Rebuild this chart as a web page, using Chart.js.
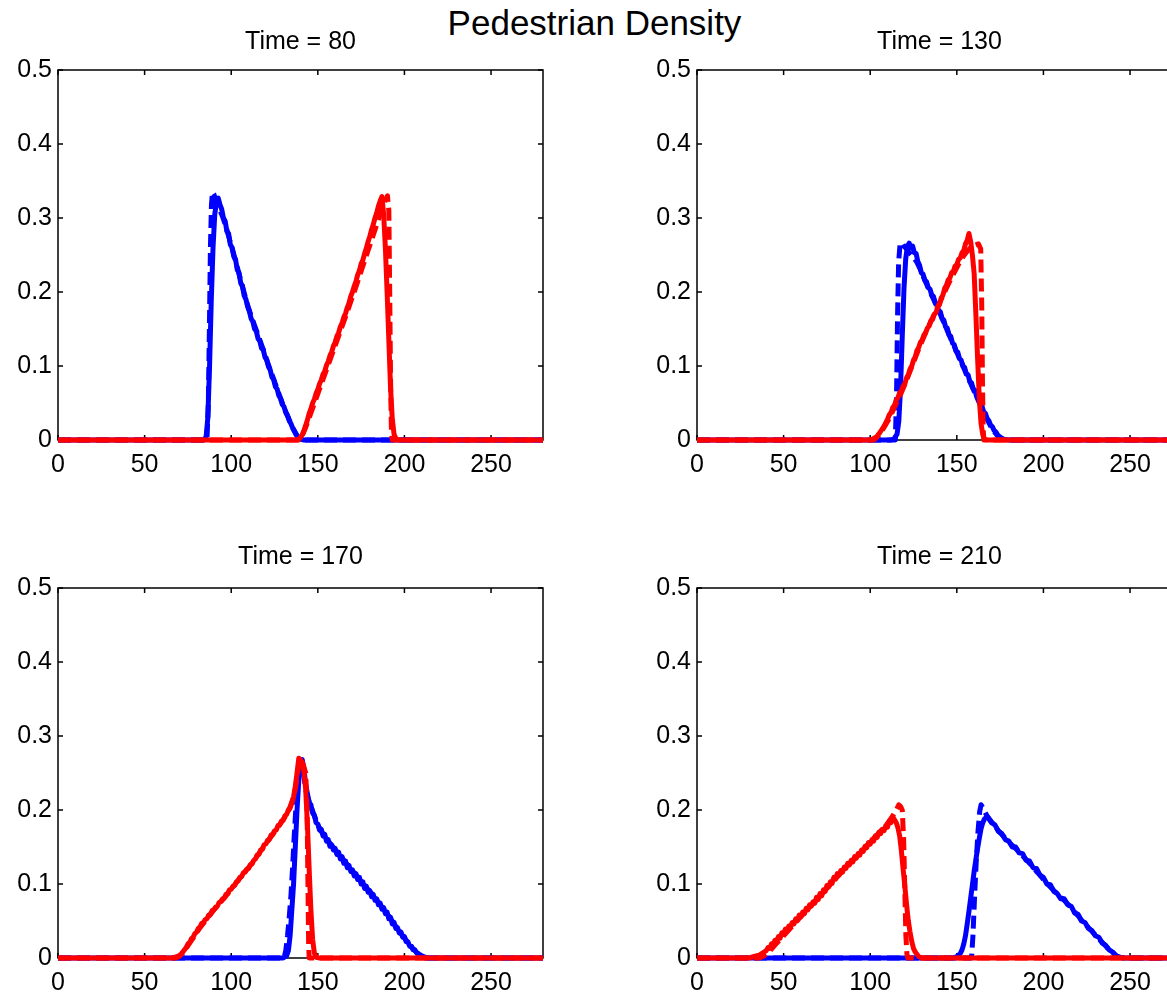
<!DOCTYPE html>
<html>
<head>
<meta charset="utf-8">
<title>Pedestrian Density</title>
<script src="https://cdn.jsdelivr.net/npm/chart.js@4.4.0/dist/chart.umd.min.js"></script>
<style>
  html, body { margin: 0; padding: 0; background: #fff; }
  body { width: 1167px; height: 992px; overflow: hidden; position: relative; font-family: "Liberation Sans", Arial, sans-serif; }
  #mainTitle { position: absolute; left: 0; top: 5px; width: 1189px; text-align: center; font-size: 35px; line-height: 35px; color: #000; }
  canvas { position: absolute; }
</style>
</head>
<body>
<div id="mainTitle">Pedestrian Density</div>
<canvas id="c80" width="558" height="490" style="left:0;top:0"></canvas>
<canvas id="c130" width="558" height="490" style="left:639px;top:0"></canvas>
<canvas id="c170" width="558" height="490" style="left:0;top:518px"></canvas>
<canvas id="c210" width="558" height="490" style="left:639px;top:518px"></canvas>
<script>
// axis setup
const xTicksStep = 50;
const yTicksStep = 0.1;

// Time = 80
const blueSolid80 = [[0,0],[84,0],[85.5,0.004],[86.5,0.03],[87.5,0.1],[88.5,0.19],[89.5,0.26],[90.5,0.305],[91.5,0.322],[92.5,0.327],[93.5,0.318],[94.5,0.312],[95.5,0.3],[96.5,0.296],[97.5,0.282],[98.5,0.279],[99.5,0.264],[100.5,0.26],[101.5,0.248],[102.5,0.244],[103.5,0.23],[104.5,0.226],[105.5,0.212],[106.5,0.208],[107.5,0.195],[108.5,0.19],[109.5,0.18],[110.5,0.174],[111.5,0.164],[112.5,0.16],[113.5,0.15],[114.5,0.147],[115.5,0.137],[116.5,0.134],[117.5,0.124],[118.5,0.122],[119.5,0.112],[120.5,0.108],[121.5,0.099],[122.5,0.095],[123.5,0.085],[124.5,0.082],[125.5,0.072],[126.5,0.069],[127.5,0.06],[128.5,0.056],[129.5,0.048],[130.5,0.045],[131.5,0.037],[132.5,0.033],[133.5,0.026],[134.5,0.022],[135.5,0.016],[136.5,0.012],[137.5,0.007],[138.5,0.004],[140,0.001],[142,0],[280,0]];
const blueDashed80 = [[0,0],[86,0],[86.8,0.05],[87.4,0.15],[88,0.26],[88.6,0.318],[89.2,0.335],[90,0.332],[91,0.325],[93,0.313],[95,0.302],[97,0.288],[99,0.271],[101,0.255],[103,0.238],[105,0.22],[107,0.203],[109,0.186],[111,0.171],[113,0.158],[115,0.145],[117,0.132],[119,0.119],[121,0.105],[123,0.092],[125,0.079],[127,0.066],[129,0.053],[131,0.041],[133,0.03],[135,0.019],[137,0.01],[139,0.003],[140.5,0],[280,0]];
const redSolid80 = [[0,0],[138,0],[139.5,0.002],[141,0.007],[142,0.013],[143,0.02],[144,0.027],[145,0.036],[146,0.042],[147,0.05],[148,0.055],[149,0.063],[150,0.068],[151,0.076],[152,0.081],[153,0.089],[154,0.093],[155,0.101],[156,0.106],[157,0.114],[158,0.119],[159,0.127],[160,0.132],[161,0.14],[162,0.145],[163,0.153],[164,0.158],[165,0.166],[166,0.171],[167,0.179],[168,0.185],[169,0.194],[170,0.2],[171,0.208],[172,0.214],[173,0.223],[174,0.229],[175,0.238],[176,0.243],[177,0.252],[178,0.259],[179,0.268],[180,0.275],[181,0.284],[182,0.291],[183,0.3],[184,0.307],[185,0.316],[186,0.323],[187,0.329],[188,0.305],[189,0.26],[190,0.2],[191,0.135],[192,0.07],[193,0.028],[194,0.008],[195,0.002],[197,0],[280,0]];
const redDashed80 = [[0,0],[139,0],[141,0.006],[143,0.017],[145,0.03],[147,0.043],[149,0.056],[151,0.069],[153,0.082],[155,0.095],[157,0.108],[159,0.121],[161,0.134],[163,0.147],[165,0.16],[167,0.173],[169,0.187],[171,0.2],[173,0.214],[175,0.228],[177,0.242],[179,0.256],[181,0.27],[183,0.284],[185,0.298],[187,0.311],[189,0.324],[190.2,0.33],[191,0.31],[191.5,0.2],[192,0.08],[192.5,0.01],[193,0],[280,0]];

// Time = 130
const blueSolid130 = [[0,0],[112,0],[114,0.002],[115.5,0.008],[116.5,0.025],[117.5,0.07],[118.5,0.14],[119.5,0.205],[120.5,0.245],[121.5,0.262],[122.5,0.266],[123.5,0.26],[124.5,0.262],[125.5,0.253],[126.5,0.252],[127.5,0.241],[128.5,0.236],[129.5,0.226],[130.5,0.224],[131.5,0.216],[132.5,0.214],[133.5,0.206],[134.5,0.204],[135.5,0.196],[136.5,0.194],[137.5,0.186],[138.5,0.183],[139.5,0.175],[140.5,0.173],[141.5,0.164],[142.5,0.162],[143.5,0.153],[144.5,0.151],[145.5,0.142],[146.5,0.14],[147.5,0.131],[148.5,0.129],[149.5,0.12],[150.5,0.119],[151.5,0.11],[152.5,0.108],[153.5,0.1],[154.5,0.098],[155.5,0.089],[156.5,0.088],[157.5,0.079],[158.5,0.077],[159.5,0.069],[160.5,0.067],[161.5,0.058],[162.5,0.057],[163.5,0.048],[164.5,0.046],[165.5,0.038],[166.5,0.036],[167.5,0.029],[168.5,0.026],[169.5,0.02],[170.5,0.018],[171.5,0.013],[172.5,0.011],[173.5,0.007],[175,0.004],[177,0.001],[180,0],[280,0]];
const blueDashed130 = [[0,0],[114.5,0],[115.2,0.06],[115.8,0.17],[116.4,0.24],[117.2,0.264],[118.2,0.267],[119.5,0.262],[121,0.258],[123,0.252],[125,0.247],[127,0.24],[129,0.23],[131,0.219],[133,0.208],[135,0.198],[137,0.188],[139,0.178],[141,0.167],[143,0.156],[145,0.145],[147,0.134],[149,0.124],[151,0.113],[153,0.103],[155,0.092],[157,0.082],[159,0.071],[161,0.061],[163,0.05],[165,0.04],[167,0.03],[169,0.021],[171,0.013],[173,0.007],[175,0.003],[177,0.001],[179,0],[280,0]];
const redSolid130 = [[0,0],[100,0],[102,0.002],[104,0.005],[105.5,0.01],[107,0.015],[108.5,0.021],[110,0.028],[111,0.034],[112,0.037],[113,0.044],[114,0.047],[115,0.054],[116,0.057],[117,0.064],[118,0.066],[119,0.073],[120,0.076],[121,0.084],[122,0.088],[123,0.096],[124,0.1],[125,0.108],[126,0.112],[127,0.121],[128,0.125],[129,0.132],[130,0.135],[131,0.142],[132,0.145],[133,0.151],[134,0.154],[135,0.161],[136,0.163],[137,0.17],[138,0.172],[139,0.18],[140,0.183],[141,0.192],[142,0.196],[143,0.205],[144,0.209],[145,0.216],[146,0.219],[147,0.226],[148,0.228],[149,0.235],[150,0.237],[151,0.244],[152,0.246],[153,0.253],[154,0.256],[155,0.265],[156,0.27],[157,0.279],[158,0.268],[159,0.25],[160,0.225],[161,0.17],[162,0.11],[163,0.055],[164,0.022],[165,0.007],[166,0.001],[168,0],[280,0]];
const redDashed130 = [[0,0],[102,0],[104,0.004],[106,0.01],[108,0.017],[110,0.025],[112,0.034],[114,0.044],[116,0.054],[118,0.064],[120,0.075],[122,0.087],[124,0.099],[126,0.111],[128,0.123],[130,0.134],[132,0.145],[134,0.155],[136,0.165],[138,0.175],[140,0.185],[142,0.195],[144,0.205],[146,0.215],[148,0.224],[150,0.233],[152,0.242],[154,0.249],[156,0.255],[158,0.26],[160,0.263],[162.5,0.265],[163.8,0.258],[164.4,0.18],[164.8,0.08],[165.2,0.015],[165.6,0],[280,0]];

// Time = 170
const blueSolid170 = [[0,0],[130,0],[132,0.003],[133,0.01],[134,0.03],[135,0.065],[136,0.1],[137,0.15],[138,0.2],[139,0.24],[140,0.262],[141,0.268],[142,0.255],[143,0.235],[144,0.222],[145,0.21],[146,0.207],[147,0.196],[148,0.193],[149,0.183],[150,0.181],[151,0.173],[152,0.174],[153,0.165],[154,0.167],[155,0.158],[156,0.16],[157,0.151],[158,0.153],[159,0.146],[160,0.148],[161,0.14],[162,0.143],[163,0.134],[164,0.137],[165,0.128],[166,0.131],[167,0.122],[168,0.125],[169,0.117],[170,0.119],[171,0.111],[172,0.114],[173,0.106],[174,0.109],[175,0.1],[176,0.103],[177,0.094],[178,0.097],[179,0.089],[180,0.091],[181,0.083],[182,0.086],[183,0.078],[184,0.08],[185,0.072],[186,0.074],[187,0.066],[188,0.068],[189,0.06],[190,0.062],[191,0.053],[192,0.055],[193,0.046],[194,0.048],[195,0.04],[196,0.041],[197,0.034],[198,0.035],[199,0.028],[200,0.029],[201,0.022],[202,0.022],[203,0.016],[204,0.016],[205,0.011],[206,0.011],[207,0.007],[208,0.006],[210,0.003],[212,0.001],[214,0],[280,0]];
const blueDashed170 = [[0,0],[130.5,0],[131.5,0.01],[132.5,0.03],[133.5,0.055],[134.5,0.085],[135.5,0.125],[136.5,0.17],[137.5,0.21],[138.5,0.24],[139.7,0.268],[141,0.26],[142,0.245],[143,0.228],[144,0.218],[146,0.205],[148,0.192],[150,0.18],[152,0.171],[154,0.164],[156,0.158],[158,0.152],[160,0.146],[162,0.14],[164,0.135],[166,0.129],[168,0.123],[170,0.118],[172,0.112],[174,0.106],[176,0.101],[178,0.095],[180,0.09],[182,0.084],[184,0.078],[186,0.072],[188,0.066],[190,0.06],[192,0.053],[194,0.046],[196,0.04],[198,0.033],[200,0.027],[202,0.021],[204,0.015],[206,0.01],[208,0.005],[210,0.002],[212,0],[280,0]];
const redSolid170 = [[0,0],[66,0],[69,0.002],[71,0.005],[73,0.011],[74,0.014],[75,0.019],[76,0.021],[77,0.026],[78,0.028],[79,0.033],[80,0.035],[81,0.04],[82,0.042],[83,0.047],[84,0.048],[85,0.052],[86,0.053],[87,0.058],[88,0.059],[89,0.064],[90,0.065],[91,0.069],[92,0.07],[93,0.075],[94,0.076],[95,0.08],[96,0.081],[97,0.086],[98,0.087],[99,0.092],[100,0.093],[101,0.097],[102,0.098],[103,0.103],[104,0.104],[105,0.109],[106,0.11],[107,0.115],[108,0.116],[109,0.12],[110,0.121],[111,0.126],[112,0.127],[113,0.132],[114,0.134],[115,0.139],[116,0.14],[117,0.146],[118,0.147],[119,0.153],[120,0.154],[121,0.159],[122,0.16],[123,0.166],[124,0.167],[125,0.172],[126,0.173],[127,0.179],[128,0.18],[129,0.185],[130,0.186],[131,0.192],[132,0.194],[133,0.2],[134,0.204],[135,0.211],[136,0.218],[137,0.232],[138,0.25],[139,0.27],[140,0.268],[141,0.262],[142,0.252],[143,0.228],[144,0.18],[145,0.12],[146,0.065],[147,0.025],[148,0.007],[149,0.001],[151,0],[280,0]];
const redDashed170 = [[0,0],[68,0],[70,0.002],[72,0.007],[74,0.013],[76,0.02],[78,0.027],[80,0.034],[82,0.041],[84,0.047],[86,0.053],[88,0.059],[90,0.065],[92,0.07],[94,0.076],[96,0.081],[98,0.087],[100,0.093],[102,0.099],[104,0.105],[106,0.111],[108,0.117],[110,0.122],[112,0.128],[114,0.135],[116,0.141],[118,0.148],[120,0.154],[122,0.161],[124,0.167],[126,0.174],[128,0.18],[130,0.187],[132,0.194],[134,0.203],[136,0.216],[137.5,0.235],[139,0.262],[140,0.27],[141.5,0.262],[143,0.25],[143.8,0.2],[144.3,0.1],[144.7,0.02],[145,0],[280,0]];

// Time = 210
const blueSolid210 = [[0,0],[148,0],[150,0.002],[152,0.006],[153,0.011],[154,0.019],[155,0.03],[156,0.046],[157,0.063],[158,0.081],[159,0.099],[160,0.117],[161,0.133],[162,0.148],[163,0.162],[164,0.175],[165,0.183],[166,0.188],[167.5,0.191],[168,0.19],[170,0.183],[172,0.18],[174,0.171],[176,0.168],[178,0.16],[180,0.158],[182,0.15],[184,0.15],[186,0.142],[188,0.141],[190,0.132],[192,0.131],[194,0.122],[196,0.121],[198,0.112],[200,0.109],[202,0.1],[204,0.099],[206,0.09],[208,0.087],[210,0.08],[212,0.08],[214,0.072],[216,0.07],[218,0.061],[220,0.059],[222,0.05],[224,0.048],[226,0.04],[228,0.037],[230,0.03],[232,0.028],[234,0.02],[236,0.017],[238,0.011],[240,0.008],[242,0.003],[244,0.001],[247,0],[280,0]];
const blueDashed210 = [[0,0],[158.5,0],[159.3,0.03],[160.2,0.08],[161.2,0.13],[162.2,0.17],[163.2,0.198],[164,0.207],[165,0.203],[166.5,0.196],[168,0.19],[170,0.184],[172,0.178],[174,0.172],[176,0.167],[178,0.162],[180,0.157],[182,0.152],[184,0.148],[186,0.143],[188,0.138],[190,0.133],[192,0.128],[194,0.123],[196,0.117],[198,0.112],[200,0.106],[202,0.101],[204,0.096],[206,0.091],[208,0.087],[210,0.082],[212,0.078],[214,0.073],[216,0.068],[218,0.062],[220,0.057],[222,0.051],[224,0.046],[226,0.041],[228,0.036],[230,0.031],[232,0.026],[234,0.021],[236,0.016],[238,0.011],[240,0.007],[242,0.003],[244,0.001],[246,0],[280,0]];
const redSolid210 = [[0,0],[30,0],[33,0.002],[36,0.004],[38,0.007],[40,0.01],[41,0.014],[42,0.013],[43,0.019],[44,0.018],[45,0.024],[46,0.023],[47,0.029],[48,0.027],[49,0.034],[50,0.032],[51,0.039],[52,0.037],[53,0.043],[54,0.042],[55,0.048],[56,0.046],[57,0.053],[58,0.051],[59,0.058],[60,0.056],[61,0.062],[62,0.06],[63,0.067],[64,0.065],[65,0.072],[66,0.07],[67,0.076],[68,0.074],[69,0.082],[70,0.079],[71,0.087],[72,0.084],[73,0.092],[74,0.09],[75,0.098],[76,0.096],[77,0.103],[78,0.101],[79,0.109],[80,0.107],[81,0.114],[82,0.112],[83,0.118],[84,0.116],[85,0.123],[86,0.121],[87,0.128],[88,0.126],[89,0.132],[90,0.13],[91,0.137],[92,0.135],[93,0.141],[94,0.139],[95,0.146],[96,0.144],[97,0.151],[98,0.149],[99,0.156],[100,0.154],[101,0.16],[102,0.158],[103,0.165],[104,0.163],[105,0.17],[106,0.168],[107,0.174],[108,0.172],[109,0.179],[110,0.177],[111,0.185],[112,0.183],[113.5,0.189],[115,0.183],[116,0.176],[117,0.165],[118,0.145],[119,0.12],[120,0.097],[121,0.072],[122,0.05],[123,0.035],[124,0.022],[125,0.013],[126,0.008],[127,0.005],[128,0.002],[130,0],[280,0]];
const redDashed210 = [[0,0],[36,0],[38,0.002],[40,0.005],[43,0.012],[46,0.02],[50,0.03],[55,0.043],[60,0.056],[65,0.069],[70,0.081],[75,0.094],[80,0.107],[85,0.12],[90,0.132],[95,0.144],[100,0.157],[105,0.169],[110,0.182],[113,0.192],[115,0.2],[116.5,0.207],[117.5,0.205],[118.5,0.2],[119.3,0.16],[120,0.09],[120.6,0.03],[121.2,0.005],[121.7,0],[280,0]];

Chart.defaults.font.family = '"Liberation Sans", Arial, sans-serif';
Chart.defaults.color = '#000';

// box round the plot area with inward ticks on all four sides
const frame = {
    id: 'frame',
    beforeDatasetsDraw(chart) {
        const { ctx, chartArea: a, scales: { x, y } } = chart;
        ctx.save();
        ctx.strokeStyle = '#000';
        ctx.lineWidth = 1.5;
        ctx.strokeRect(a.left, a.top, a.right - a.left, a.bottom - a.top);
        ctx.beginPath();
        x.ticks.forEach(t => {
            const px = x.getPixelForValue(t.value);
            ctx.moveTo(px, a.bottom); ctx.lineTo(px, a.bottom - 5);
            ctx.moveTo(px, a.top); ctx.lineTo(px, a.top + 5);
        });
        y.ticks.forEach(t => {
            const py = y.getPixelForValue(t.value);
            ctx.moveTo(a.left, py); ctx.lineTo(a.left + 5, py);
            ctx.moveTo(a.right, py); ctx.lineTo(a.right - 5, py);
        });
        ctx.stroke();
        ctx.restore();
    }
};

// panel title centred over the plot area
const subTitle = {
    id: 'subTitle',
    afterDraw(chart, args, opts) {
        const { ctx, chartArea: a } = chart;
        ctx.save();
        ctx.font = '25px "Liberation Sans", Arial, sans-serif';
        ctx.fillStyle = '#000';
        ctx.textAlign = 'center';
        ctx.textBaseline = 'middle';
        ctx.fillText(opts.text, (a.left + a.right) / 2, a.top - opts.gap);
        ctx.restore();
    }
};

function toPoints(arr) {
    return arr.map(p => ({ x: p[0], y: p[1] }));
}

function lineSet(arr, color, dashed) {
    return {
        data: toPoints(arr),
        borderColor: color,
        borderWidth: 5,
        borderDash: dashed ? [13, 6] : [],
        borderJoinStyle: 'round',
        pointRadius: 0,
        tension: 0,
        fill: false,
        clip: { left: 0, right: 0, top: 6, bottom: 6 }
    };
}

function makePanel(id, title, gap, blueSolid, blueDashed, redSolid, redDashed) {
    // first dataset is drawn on top, so red comes first
    new Chart(document.getElementById(id), {
        type: 'line',
        data: {
            datasets: [
                lineSet(redDashed, '#ff0000', true),
                lineSet(redSolid, '#ff0000', false),
                lineSet(blueDashed, '#0000ff', true),
                lineSet(blueSolid, '#0000ff', false)
            ]
        },
        options: {
            responsive: false,
            animation: false,
            devicePixelRatio: 1,
            layout: { padding: { top: 70, right: 15, bottom: 0, left: 0 } },
            plugins: {
                legend: { display: false },
                tooltip: { enabled: false },
                subTitle: { text: title, gap: gap }
            },
            scales: {
                x: {
                    type: 'linear',
                    min: 0,
                    max: 280,
                    grid: { display: false, drawTicks: false },
                    border: { display: false },
                    ticks: { stepSize: xTicksStep, includeBounds: false, padding: 10, maxRotation: 0, autoSkip: false, font: { size: 25 } },
                    afterFit: s => { s.height = 50; }
                },
                y: {
                    type: 'linear',
                    min: 0,
                    max: 0.5,
                    grid: { display: false, drawTicks: false },
                    border: { display: false },
                    ticks: { stepSize: yTicksStep, padding: 6, font: { size: 25 } },
                    afterFit: s => { s.width = 58; }
                }
            }
        },
        plugins: [frame, subTitle]
    });
}

makePanel('c80', 'Time = 80', 28, blueSolid80, blueDashed80, redSolid80, redDashed80);
makePanel('c130', 'Time = 130', 28, blueSolid130, blueDashed130, redSolid130, redDashed130);
makePanel('c170', 'Time = 170', 31, blueSolid170, blueDashed170, redSolid170, redDashed170);
makePanel('c210', 'Time = 210', 31, blueSolid210, blueDashed210, redSolid210, redDashed210);
</script>
</body>
</html>
